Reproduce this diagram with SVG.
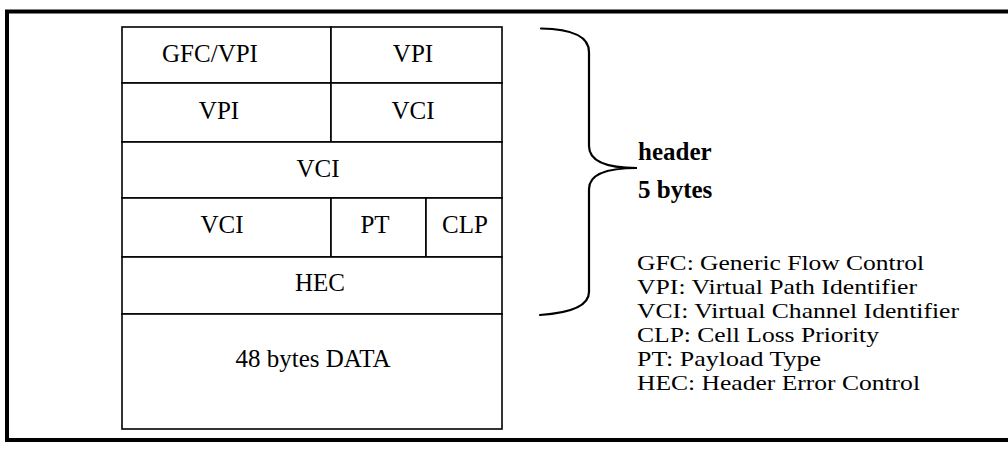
<svg xmlns="http://www.w3.org/2000/svg" width="1008" height="449" viewBox="0 0 1008 449">
<style>
.t{font-family:"Liberation Serif","Times New Roman",serif;font-size:25px;fill:#000}
.l{font-family:"Liberation Serif","Times New Roman",serif;font-size:21.5px;fill:#000}
.c{text-anchor:middle}
.b{font-weight:bold}
.cell{fill:#fff;stroke:#000;stroke-width:1.6}
.frame{stroke:#000;stroke-width:4;fill:none}
.brace{fill:none;stroke:#000;stroke-width:2.2;stroke-linecap:round}
</style>
<rect width="1008" height="449" fill="#fff"/>
<g id="frame">
<line class="frame" x1="7" y1="10" x2="7" y2="442"/>
<line class="frame" x1="5" y1="11.5" x2="1008" y2="11.5"/>
<line class="frame" x1="5" y1="440" x2="1008" y2="440"/>
</g>
<g id="row1">
<rect class="cell" x="122" y="27" width="209" height="56"/>
<rect class="cell" x="331" y="27" width="171" height="56"/>
<text class="t c" x="210" y="62">GFC/VPI</text>
<text class="t c" x="413" y="62">VPI</text>
</g>
<g id="row2">
<rect class="cell" x="122" y="83" width="209" height="59"/>
<rect class="cell" x="331" y="83" width="171" height="59"/>
<text class="t c" x="219" y="119">VPI</text>
<text class="t c" x="413" y="119">VCI</text>
</g>
<g id="row3">
<rect class="cell" x="122" y="142" width="380" height="56"/>
<text class="t c" x="318" y="177">VCI</text>
</g>
<g id="row4">
<rect class="cell" x="122" y="198" width="209" height="59"/>
<rect class="cell" x="331" y="198" width="95" height="59"/>
<rect class="cell" x="426" y="198" width="76" height="59"/>
<text class="t c" x="222" y="233">VCI</text>
<text class="t c" x="375" y="233">PT</text>
<text class="t c" x="465" y="233">CLP</text>
</g>
<g id="row5">
<rect class="cell" x="122" y="257" width="380" height="57"/>
<text class="t c" x="320" y="291">HEC</text>
</g>
<g id="row6">
<rect class="cell" x="122" y="314" width="380" height="115"/>
<text class="t c" x="313" y="367">48 bytes DATA</text>
</g>
<g id="connectors">
<path class="brace" d="M541,28.5 C570,29 589,36 589,52 L589,146 C589,160 605,168 637,168 C605,168 589,175 589,189 L589,292 C589,306 570,313 540,315"/>
</g>
<g id="header-label">
<text class="t b" x="638" y="160">header</text>
<text class="t b" x="638" y="198">5 bytes</text>
</g>
<g id="legend">
<text class="l" x="637" y="270" textLength="287" lengthAdjust="spacingAndGlyphs">GFC: Generic Flow Control</text>
<text class="l" x="637" y="294" textLength="280" lengthAdjust="spacingAndGlyphs">VPI: Virtual Path Identifier</text>
<text class="l" x="637" y="318" textLength="322" lengthAdjust="spacingAndGlyphs">VCI: Virtual Channel Identifier</text>
<text class="l" x="637" y="342" textLength="242" lengthAdjust="spacingAndGlyphs">CLP: Cell Loss Priority</text>
<text class="l" x="637" y="366" textLength="184" lengthAdjust="spacingAndGlyphs">PT: Payload Type</text>
<text class="l" x="637" y="390" textLength="283" lengthAdjust="spacingAndGlyphs">HEC: Header Error Control</text>
</g>
</svg>
